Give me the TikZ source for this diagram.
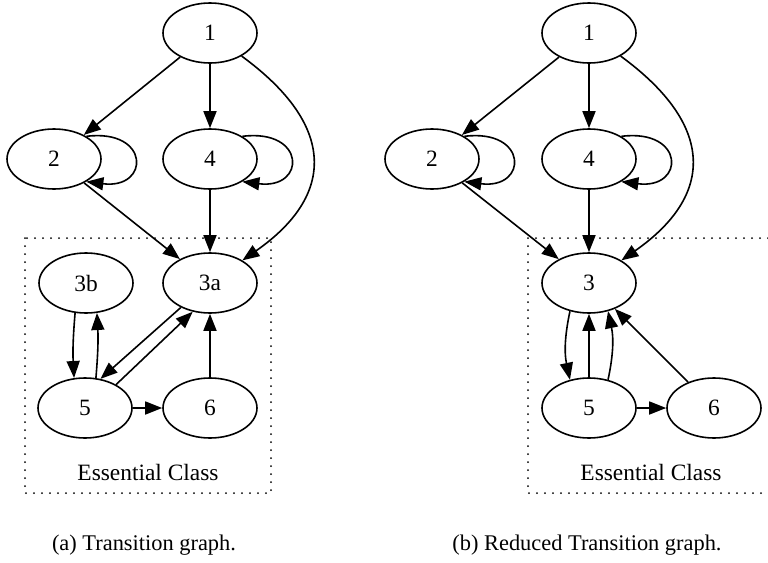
\documentclass[tikz,border=0pt]{standalone}
\usepackage{fontspec}
\setmainfont{Liberation Serif}
\usetikzlibrary{arrows.meta}
\usetikzlibrary{shapes.geometric}

\begin{document}
\begin{tikzpicture}
[x=0.5pt,y=-0.5pt,line width=.8pt,
 >={Triangle[length=8.5pt,width=6.5pt]},
 state/.style={draw,ellipse,minimum width=47pt,minimum height=30pt,inner sep=0pt,font=\fontsize{11.7}{14}\selectfont},
 classlabel/.style={font=\fontsize{11.7}{14}\selectfont},
 classbox/.style={line width=1pt,line cap=round,dash pattern=on 0pt off 4pt},
 caption/.style={font=\fontsize{11.2}{13}\selectfont}]

\useasboundingbox (0,0) rectangle (768,563);

% (a) transition graph
\node[state] (a1) at (210,33) {1};
\node[state] (a2) at (54,159) {2};
\node[state] (a4) at (210,159) {4};
\node[state] (a3a) at (210,283) {3a};
\node[state] (a3b) at (86,283) {3b};
\node[state] (a5) at (85,408) {5};
\node[state] (a6) at (210,408) {6};

\draw[classbox] (25,238) rectangle (271,493); %class
\node[classlabel] (ecA) at (148,472) {Essential Class};

\draw[->] (a1) -- (a2);
\draw[->] (a1) -- (a4);
\draw[->] (a1) .. controls (336,125) and (336,195) .. (a3a);
\draw[->] (a2.35) .. controls +(64,-8) and +(64,8) .. (a2.-35); %loop
\draw[->] (a4.35) .. controls +(64,-8) and +(64,8) .. (a4.-35); %loop
\draw[->] (a2) -- (a3a);
\draw[->] (a4) -- (a3a);
\draw[->] (a3b.-110) to[bend right=4] (a5.110);
\draw[->] (a5.70) to[bend right=4] (a3b.-70);
\draw[->] (a3a.-140) -- (a5.62);
\draw[->] (a5.37) -- (a3a.-121);
\draw[->] (a6) -- (a3a);
\draw[->] (a5) -- (a6);

\node[caption] (capA) at (144,545) {(a) Transition graph.};

% (b) reduced transition graph
\node[state] (b1) at (589,33) {1};
\node[state] (b2) at (432,159) {2};
\node[state] (b4) at (589,159) {4};
\node[state] (b3) at (589,283) {3};
\node[state] (b5) at (589,408) {5};
\node[state] (b6) at (714,408) {6};

\draw[classbox] (768,238) -- (528,238) -- (528,493) -- (768,493); %class
\node[classlabel] (ecB) at (651,472) {Essential Class};

\draw[->] (b1) -- (b2);
\draw[->] (b1) -- (b4);
\draw[->] (b1) .. controls (715,125) and (715,195) .. (b3);
\draw[->] (b2.35) .. controls +(64,-8) and +(64,8) .. (b2.-35); %loop
\draw[->] (b4.35) .. controls +(64,-8) and +(64,8) .. (b4.-35); %loop
\draw[->] (b2) -- (b3);
\draw[->] (b4) -- (b3);
\draw[->] (b3.-124) to[bend right=12] (b5.124);
\draw[->] (b5) -- (b3);
\draw[->] (b5.56) to[bend right=12] (b3.-56);
\draw[->] (b6) -- (b3);
\draw[->] (b5) -- (b6);

\node[caption] (capB) at (587,545) {(b) Reduced Transition graph.};

\end{tikzpicture}
\end{document}
